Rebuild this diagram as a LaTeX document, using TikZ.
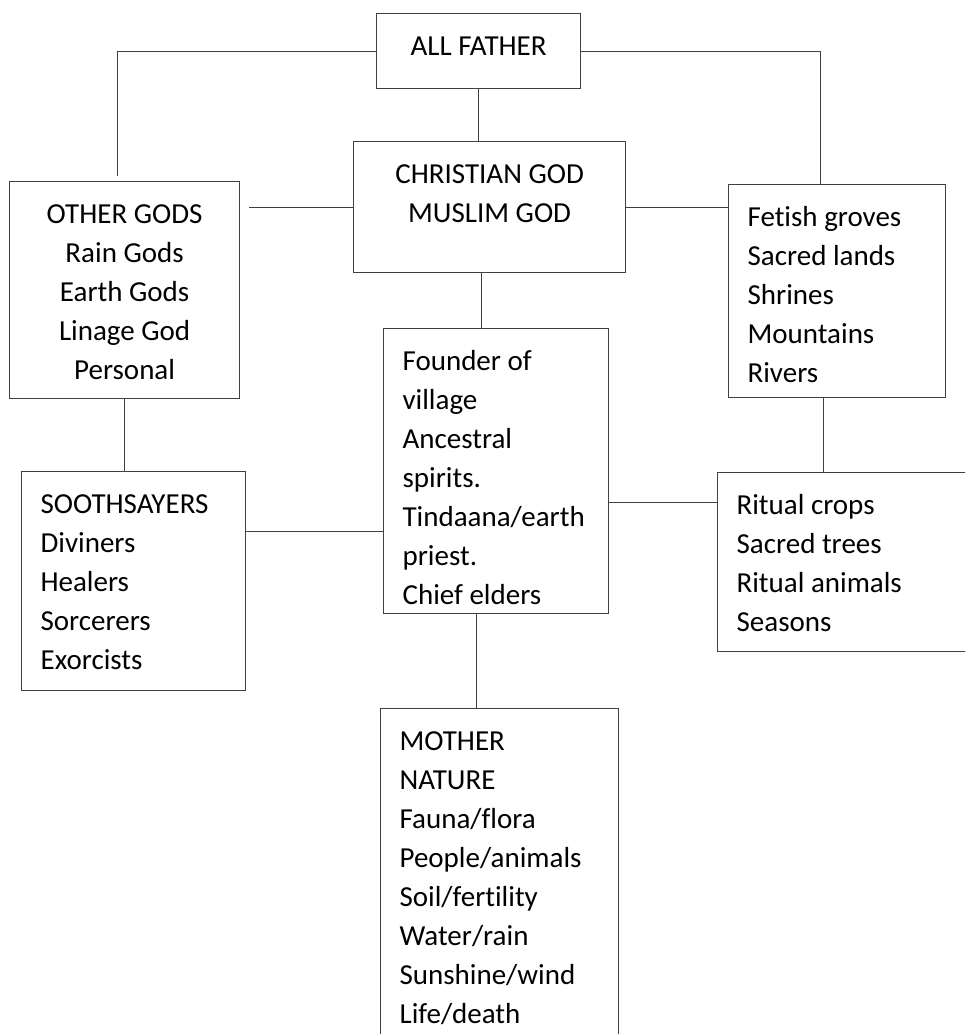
\documentclass[tikz,border=0pt]{standalone}
\usepackage{fontspec}
\setmainfont{Carlito}[Ligatures=NoCommon]
\usetikzlibrary{positioning}

\tikzset{
    box/.style={draw=black!75, line width=0.6pt, inner xsep=9.5pt, inner ysep=0pt, anchor=north west, font=\fontsize{14.5}{19.5}\selectfont},
    link/.style={draw=black!75, line width=0.6pt},
}
% fixed size text block, lines start at the top
\newcommand{\boxlines}[4][\raggedright]{\parbox[c][#3][t]{#2}{#1\rule{0pt}{21pt}#4}}

\begin{document}
\begin{tikzpicture}[x=0.5pt, y=-0.5pt]
    \fill[white] (0,0) rectangle (965,1034);
    \clip (0,0) rectangle (965,1034);

    \node[box] (father) at (376,13) {\boxlines[\centering]{83pt}{37.5pt}{ALL FATHER}};
    \node[box] (christian) at (353,141) {\boxlines[\centering]{117pt}{65.5pt}{CHRISTIAN GOD\\MUSLIM GOD}};
    \node[box] (other) at (9,181) {\boxlines[\centering]{96pt}{108.5pt}{OTHER GODS\\Rain Gods\\Earth Gods\\Linage God\\Personal}};
    \node[box] (fetish) at (728,184) {\boxlines{89.5pt}{106.5pt}{Fetish groves\\Sacred lands\\Shrines\\Mountains\\Rivers}};
    \node[box] (founder) at (383,328) {\boxlines{93.5pt}{142.5pt}{Founder of\\village\\Ancestral\\spirits.\\Tindaana/earth\\priest.\\Chief elders}};
    \node[box] (sooth) at (21,471) {\boxlines{93pt}{109.5pt}{SOOTHSAYERS\\Diviners\\Healers\\Sorcerers\\Exorcists}};
    \node[box] (ritual) at (717,472) {\boxlines{112.5pt}{89.5pt}{Ritual crops\\Sacred trees\\Ritual animals\\Seasons}};
    \node[box] (mother) at (380,708) {\boxlines{100pt}{180pt}{MOTHER\\NATURE\\Fauna/flora\\People/animals\\Soil/fertility\\Water/rain\\Sunshine/wind\\Life/death}};

    \draw[link, shorten >=2.5pt] (father.west) -| ([xshift=-3.5pt]other.north);
    \draw[link] (father.east) -| ([xshift=-8.25pt]fetish.north);
    \draw[link] (father.south) -- (father.south |- christian.north);
    \draw[link, shorten >=4.5pt] (christian.west) -- (christian.west -| other.east);
    \draw[link] (christian.east) -- (christian.east -| fetish.west);
    \draw[link] ([xshift=-4pt]christian.south) -- ([xshift=-4pt]christian.south |- founder.north);
    \draw[link] (other.south) -- (other.south |- sooth.north);
    \draw[link] ([xshift=-6.75pt]fetish.south) -- ([xshift=-6.75pt]fetish.south |- ritual.north);
    \draw[link] ([yshift=25pt]sooth.east) -- ([yshift=25pt]sooth.east -| founder.west);
    \draw[link] ([yshift=-15.75pt]founder.east) -- ([yshift=-15.75pt]founder.east -| ritual.west);
    \draw[link] ([xshift=-9.75pt]founder.south) -- ([xshift=-9.75pt]founder.south |- mother.north);
\end{tikzpicture}
\end{document}
